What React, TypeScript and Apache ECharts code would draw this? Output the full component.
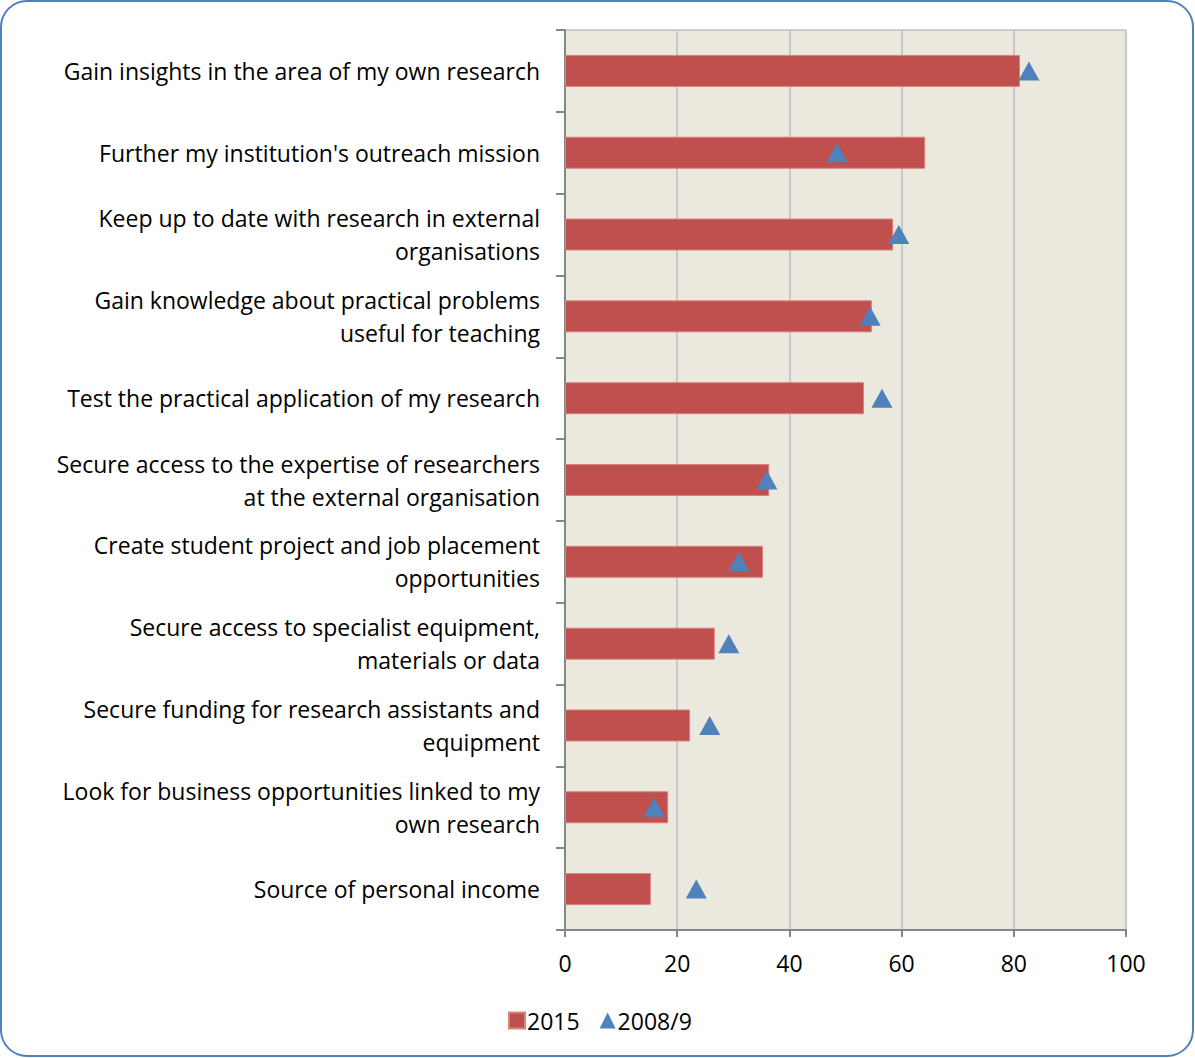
import React, { useEffect, useRef } from "react";
import * as echarts from "echarts";

const categories = [
  "Gain insights in the area of my own research",
  "Further my institution's outreach mission",
  "Keep up to date with research in external\norganisations",
  "Gain knowledge about practical problems\nuseful for teaching",
  "Test the practical application of my research",
  "Secure access to the expertise of researchers\nat the external organisation",
  "Create student project and job placement\nopportunities",
  "Secure access to specialist equipment,\nmaterials or data",
  "Secure funding for research assistants and\nequipment",
  "Look for business opportunities linked to my\nown research",
  "Source of personal income",
];
const values2015 = [81.1, 64.2, 58.5, 54.7, 53.3, 36.4, 35.3, 26.7, 22.3, 18.4, 15.3];
const values2008 = [82.7, 48.5, 59.5, 54.4, 56.5, 36.0, 31.0, 29.2, 25.8, 15.9, 23.4];
const seriesNames = ["2015", "2008/9"];
const xTicks = { min: 0, max: 100, interval: 20 };

export default function App() {
  const ref = useRef<HTMLDivElement>(null);
  useEffect(() => {
    const chart = echarts.init(ref.current!, null, { renderer: "svg" });
    const font = "'Open Sans', sans-serif";
    chart.setOption({
      animation: false,
      backgroundColor: "#ffffff",
      textStyle: { fontFamily: font },
      graphic: [
        {
          type: "rect",
          shape: { x: 1, y: 1, width: 1192, height: 1055, r: 26 },
          style: { fill: "none", stroke: "#4F81BD", lineWidth: 2 },
          z: 100,
        },
      ],
      grid: {
        left: 565,
        right: 69,
        top: 30,
        bottom: 128,
        show: true,
        backgroundColor: "#EBE8DE",
        borderColor: "#A6A6A6",
        borderWidth: 1,
      },
      legend: {
        left: 503,
        top: 1004,
        itemWidth: 16,
        itemHeight: 16,
        itemGap: 20,
        textStyle: { fontSize: 23, color: "#000", fontFamily: font, padding: [0, 0, 0, -3] },
        data: [
          { name: seriesNames[0], icon: "rect" },
          { name: seriesNames[1], icon: "triangle" },
        ],
      },
      xAxis: {
        type: "value",
        min: xTicks.min,
        max: xTicks.max,
        interval: xTicks.interval,
        axisLine: { show: true, lineStyle: { color: "#868686", width: 2 } },
        axisTick: { show: true, length: 7, lineStyle: { color: "#868686", width: 2 } },
        axisLabel: { fontSize: 23, color: "#000", margin: 21, fontFamily: font },
        splitLine: { show: true, lineStyle: { color: "#C8C8C8", width: 2 } },
      },
      yAxis: {
        type: "category",
        inverse: true,
        data: categories,
        axisLine: { show: true, lineStyle: { color: "#868686", width: 2 } },
        axisTick: { show: true, length: 9, lineStyle: { color: "#868686", width: 2 } },
        axisLabel: {
          fontSize: 23,
          color: "#000",
          margin: 25,
          lineHeight: 33,
          align: "right",
          fontFamily: font,
        },
        splitLine: { show: false },
      },
      series: [
        {
          name: seriesNames[0],
          type: "bar",
          data: values2015,
          barWidth: 32,
          itemStyle: { color: "#C0504D", borderColor: "#D9837F", borderWidth: 1 },
        },
        {
          name: seriesNames[1],
          type: "scatter",
          data: values2008,
          symbol: "triangle",
          symbolSize: [21, 19],
          itemStyle: { color: "#4F81BD", opacity: 1 },
          z: 5,
        },
      ],
    });
    return () => chart.dispose();
  }, []);
  return (
    <div
      ref={ref}
      style={{ position: "absolute", left: 0, top: 0, width: 1195, height: 1058 }}
    />
  );
}
